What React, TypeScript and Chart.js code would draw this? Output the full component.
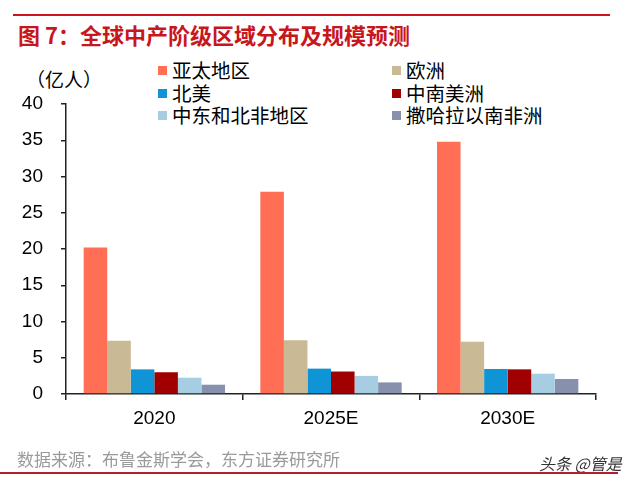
import React, { useEffect, useRef } from "react";
import { Chart, registerables } from "chart.js";

Chart.register(...registerables);

const categories = ["2020", "2025E", "2030E"];
const seriesNames = ["亚太地区", "欧洲", "北美", "中南美洲", "中东和北非地区", "撒哈拉以南非洲"];
const asiaPacific = [20.2, 27.9, 34.8];
const europe = [7.35, 7.4, 7.2];
const northAmerica = [3.4, 3.5, 3.45];
const latinAmerica = [3.0, 3.1, 3.4];
const mena = [2.25, 2.5, 2.8];
const subSaharan = [1.28, 1.6, 2.07];
const seriesValues = [asiaPacific, europe, northAmerica, latinAmerica, mena, subSaharan];
const seriesColors = ["#FF6E55", "#C9B994", "#0F95D5", "#A00000", "#A7CDE3", "#8790AD"];
const yTicks = [0, 5, 10, 15, 20, 25, 30, 35, 40];

const title = "图 7：全球中产阶级区域分布及规模预测";
const unitLabel = "（亿人）";
const sourceText = "数据来源：布鲁金斯学会，东方证券研究所";
const watermark = "头条 @管是";

const CJK = '"Noto Sans CJK SC", "Liberation Sans", sans-serif';
const LATIN = '"Liberation Sans", "Noto Sans CJK SC", sans-serif';

export default function App() {
  const canvasRef = useRef<HTMLCanvasElement | null>(null);

  useEffect(() => {
    document.body.style.margin = "0";
    const ctx = canvasRef.current!;
    const chart = new Chart(ctx, {
      type: "bar",
      data: {
        labels: categories,
        datasets: seriesNames.map((name, i) => ({
          label: name,
          data: seriesValues[i],
          backgroundColor: seriesColors[i],
          borderWidth: 0,
          categoryPercentage: 0.8,
          barPercentage: 1.0,
        })),
      },
      options: {
        animation: false,
        responsive: false,
        maintainAspectRatio: false,
        layout: { padding: { top: 104, left: 0, right: 44, bottom: 0 } },
        plugins: {
          legend: { display: false },
          tooltip: { enabled: false },
          title: { display: false },
        },
        scales: {
          x: {
            grid: {
              display: true,
              drawOnChartArea: false,
              drawTicks: true,
              tickLength: 6,
              color: "#222",
              lineWidth: 1.5,
              offset: true,
            },
            border: { display: true, color: "#222", width: 1.5 },
            ticks: {
              color: "#000",
              font: { family: LATIN, size: 19 },
              padding: 7,
            },
            afterFit: (scale: any) => {
              scale.height = 92;
            },
          },
          y: {
            min: 0,
            max: 40,
            afterBuildTicks: (scale: any) => {
              scale.ticks = yTicks.map((v) => ({ value: v }));
            },
            grid: {
              display: true,
              drawOnChartArea: false,
              drawTicks: true,
              tickLength: 5,
              color: "#222",
              lineWidth: 1.5,
            },
            border: { display: true, color: "#222", width: 1.5 },
            ticks: {
              color: "#000",
              font: { family: LATIN, size: 19 },
              padding: 18,
            },
            afterFit: (scale: any) => {
              scale.width = 66;
            },
          },
        },
      },
    });
    return () => chart.destroy();
  }, []);

  const legendCols = [158, 392];
  const legendRows = [70, 93, 115];

  return (
    <div style={{ position: "relative", width: 640, height: 486, background: "#fff", overflow: "hidden" }}>
      <div style={{ position: "absolute", left: 13, top: 14, width: 597, height: 2, background: "#C8161D" }} />
      <div
        style={{
          position: "absolute",
          left: 18,
          top: 20,
          fontFamily: CJK,
          fontWeight: 700,
          fontSize: 22,
          lineHeight: "28px",
          color: "#C8161D",
          whiteSpace: "nowrap",
        }}
      >
        {title}
      </div>
      <div
        style={{
          position: "absolute",
          left: 26,
          top: 65,
          fontFamily: CJK,
          fontSize: 19,
          lineHeight: "28px",
          color: "#000",
          whiteSpace: "nowrap",
        }}
      >
        {unitLabel}
      </div>
      {seriesNames.map((name, i) => {
        const col = i % 2;
        const row = Math.floor(i / 2);
        return (
          <div
            key={name}
            style={{
              position: "absolute",
              left: legendCols[col],
              top: legendRows[row] - 13,
              height: 26,
              display: "flex",
              alignItems: "center",
              fontFamily: CJK,
              fontSize: 19.5,
              color: "#000",
              whiteSpace: "nowrap",
            }}
          >
            <span style={{ display: "inline-block", width: 9, height: 9, background: seriesColors[i], marginRight: 5 }} />
            <span style={{ lineHeight: "26px" }}>{name}</span>
          </div>
        );
      })}
      <canvas ref={canvasRef} width={640} height={486} style={{ position: "absolute", left: 0, top: 0, width: 640, height: 486 }} />
      <div
        style={{
          position: "absolute",
          left: 17,
          top: 447,
          fontFamily: CJK,
          fontSize: 17,
          lineHeight: "24px",
          color: "#9A9A9A",
          whiteSpace: "nowrap",
        }}
      >
        {sourceText}
      </div>
      <div
        style={{
          position: "absolute",
          left: 539,
          top: 451,
          fontFamily: CJK,
          fontSize: 16,
          lineHeight: "24px",
          color: "#333",
          fontStyle: "italic",
          whiteSpace: "nowrap",
        }}
      >
        {watermark}
      </div>
      <div style={{ position: "absolute", left: 0, top: 472, width: 618, height: 2, background: "#B0202A" }} />
    </div>
  );
}
